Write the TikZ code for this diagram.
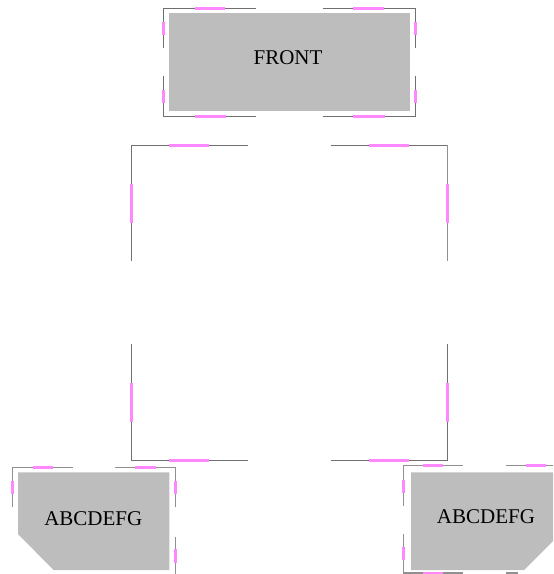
\documentclass[tikz,border=0pt]{standalone}
\usepackage{fontspec}
\setmainfont{Liberation Serif}
\definecolor{panelgray}{HTML}{BDBDBD}
\definecolor{linegray}{HTML}{707070}
\definecolor{softgray}{HTML}{909090}
\definecolor{accentpink}{HTML}{FF88FF}
\tikzset{
  panel/.style={fill=panelgray,draw=none},
  frameline/.style={draw=linegray,line width=1.2pt,line cap=butt},
  softline/.style={draw=softgray,line width=1.2pt,line cap=butt},
  accent/.style={draw=accentpink,line width=1.7pt,line cap=butt},
  caption/.style={inner sep=0pt,font=\fontsize{15.75pt}{18pt}\selectfont,text=black}
}
% y, x0, x1, pink0, pink1
\newcommand{\hsegm}[6][frameline]{\draw[#1] (#3,#2) -- (#5,#2); \draw[accent] (#5,#2) -- (#6,#2); \draw[#1] (#6,#2) -- (#4,#2);}
% x, y0, y1, pink0, pink1
\newcommand{\vsegm}[6][frameline]{\draw[#1] (#2,#3) -- (#2,#5); \draw[accent] (#2,#5) -- (#2,#6); \draw[#1] (#2,#6) -- (#2,#4);}
\begin{document}
\begin{tikzpicture}[x=0.75pt,y=-0.75pt]
\useasboundingbox (0,0) rectangle (553,574);
% gray panels
\fill[panel] (169.3,13.3) rectangle (410,111);
\fill[panel] (18,472.3) -- (169.3,472.3) -- (169.3,570) -- (53.5,570) -- (18,534) -- cycle;
\fill[panel] (411,472.3) -- (553,472.3) -- (553,541) -- (524,570) -- (411,570) -- cycle;
\node[caption] (front) at (288,58) {FRONT};
\node[caption] (leftlabel) at (93.3,518.5) {ABCDEFG};
\node[caption] (rightlabel) at (486,517) {ABCDEFG};
% front frame
\hsegm{8.5}{163}{256}{195}{225}
\hsegm{8.5}{322.5}{416}{353}{384}
\hsegm{116.5}{163}{256}{195}{225.5}
\hsegm{116.5}{322.5}{416}{353}{384.5}
\vsegm{163.5}{8.5}{48}{21.7}{35}
\vsegm{163.5}{76.5}{117}{90}{103.5}
\vsegm{415.5}{8.5}{48}{21.7}{35}
\vsegm{415.5}{76.5}{117}{90}{103.5}
% middle frame
\hsegm{145.5}{131}{248}{169.3}{209.3}
\hsegm{145.5}{331}{448}{369}{409}
\hsegm{460.5}{131}{248}{169.3}{209.3}
\hsegm{460.5}{331}{448}{369}{409}
\vsegm{131.5}{145.5}{261}{183.7}{222.7}
\vsegm[softline]{447.5}{145.5}{261}{184}{223}
\vsegm{131.5}{344.3}{461}{382.7}{421.7}
\vsegm{447.5}{344.3}{461}{382.7}{421.7}
% bottom-left frame
\hsegm[softline]{467.5}{12}{72.7}{32.7}{53.3}
\hsegm[softline]{467.5}{115.3}{176}{135.3}{156}
\vsegm[softline]{12.5}{467.5}{507}{481}{494.3}
\vsegm[softline]{175.5}{467.5}{507}{481}{494.3}
\vsegm[softline]{175.5}{536.7}{574}{549}{562.7}
% bottom-right frame
\hsegm[softline]{465.5}{403}{462.7}{423.3}{443.3}
\hsegm[softline]{465.5}{506}{553}{526}{546}
\hsegm[softline]{573}{403}{462.7}{423.3}{443.3}
\draw[softline] (506,573) -- (518,573);
\vsegm[softline]{403.5}{465.5}{505.7}{480}{492.7}
\vsegm[softline]{403.5}{534.3}{573.5}{546.7}{560}
\end{tikzpicture}
\end{document}
